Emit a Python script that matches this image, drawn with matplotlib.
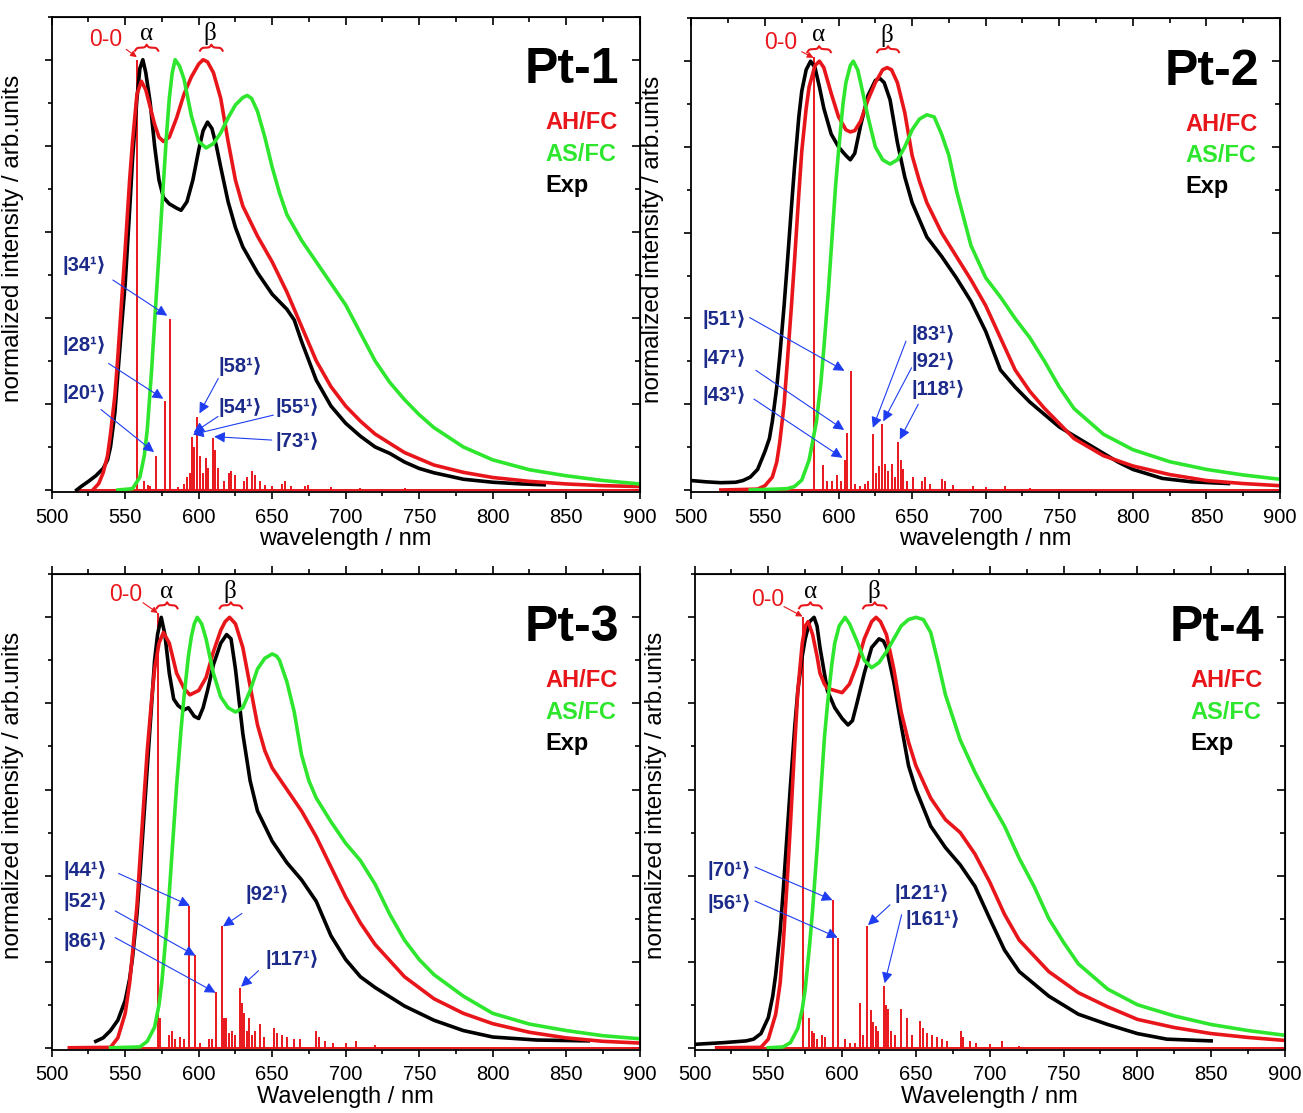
import numpy as np
import matplotlib.pyplot as plt
from matplotlib.ticker import MultipleLocator

plt.rcParams['font.family'] = ['Liberation Sans', 'DejaVu Sans']

RED = '#e8161b'
GREEN = '#2ee62e'
NAVY = '#1c2a8a'
BLUE = '#1f3df0'

# ---------------- Pt-1 ----------------
pt1_exp_wl = [517, 520, 525, 530, 535, 538, 540, 543, 545, 548, 550, 553, 555, 558, 560, 562, 564, 567,
              570, 573, 576, 580, 585, 588, 592, 596, 600, 603, 606, 609, 612, 615, 620, 625, 630, 640,
              650, 660, 665, 670, 680, 690, 700, 710, 720, 730, 740, 750, 760, 780, 800, 820, 835]
pt1_exp_int = [0, 0.008, 0.02, 0.033, 0.05, 0.07, 0.10, 0.18, 0.27, 0.40, 0.48, 0.65, 0.77, 0.91, 0.98, 1.0,
               0.97, 0.90, 0.80, 0.72, 0.68, 0.665, 0.655, 0.65, 0.67, 0.72, 0.79, 0.835, 0.855, 0.84, 0.80,
               0.75, 0.67, 0.61, 0.565, 0.505, 0.455, 0.42, 0.395, 0.345, 0.255, 0.195, 0.155, 0.125, 0.10,
               0.085, 0.065, 0.05, 0.04, 0.025, 0.018, 0.014, 0.012]
pt1_ah_wl = [528, 532, 535, 538, 540, 543, 545, 548, 550, 553, 555, 558, 561, 564, 567, 570, 573, 576, 580,
             585, 590, 595, 600, 603, 606, 610, 615, 620, 625, 630, 640, 650, 660, 670, 680, 690, 700, 710,
             720, 740, 760, 780, 800, 825, 850, 875, 900]
pt1_ah_int = [0, 0.015, 0.04, 0.08, 0.13, 0.22, 0.31, 0.46, 0.56, 0.72, 0.81, 0.92, 0.95, 0.93, 0.89, 0.85,
              0.82, 0.81, 0.82, 0.865, 0.92, 0.96, 0.99, 1.0, 0.995, 0.97, 0.91, 0.81, 0.72, 0.66, 0.59, 0.53,
              0.46, 0.38, 0.30, 0.24, 0.195, 0.16, 0.13, 0.087, 0.058, 0.041, 0.029, 0.02, 0.014, 0.01, 0.008]
pt1_as_wl = [545, 555, 560, 563, 565, 568, 570, 573, 575, 578, 580, 582, 584, 587, 590, 595, 600, 605, 610,
             615, 620, 625, 630, 633, 636, 640, 645, 650, 655, 660, 670, 680, 690, 700, 710, 720, 730, 740,
             750, 760, 780, 800, 825, 850, 875, 900]
pt1_as_int = [0, 0.003, 0.03, 0.08, 0.14, 0.28, 0.39, 0.55, 0.66, 0.82, 0.91, 0.97, 1.0, 0.985, 0.955, 0.87,
              0.81, 0.795, 0.805, 0.83, 0.865, 0.895, 0.912, 0.917, 0.91, 0.88, 0.82, 0.75, 0.69, 0.64, 0.58,
              0.53, 0.48, 0.43, 0.365, 0.30, 0.25, 0.21, 0.175, 0.145, 0.10, 0.07, 0.047, 0.033, 0.022, 0.014]
pt1_stick_wl = [557.8, 563, 565.2, 566.8, 570.9, 576.9, 580.5, 586, 590, 592, 594, 595.5, 597, 599.1, 600.9,
                602.7, 605, 606.5, 609.4, 611, 612.8, 617.3, 620.6, 622.2, 624.7, 630.7, 633, 636.3, 638.6,
                642, 645, 649.8, 656.5, 658.7, 663, 672, 674.4, 690, 710, 740]
pt1_stick_int = [1.0, 0.02, 0.012, 0.01, 0.079, 0.206, 0.397, 0.008, 0.015, 0.03, 0.04, 0.123, 0.10, 0.17,
                 0.08, 0.04, 0.075, 0.05, 0.121, 0.094, 0.05, 0.02, 0.04, 0.045, 0.035, 0.02, 0.03, 0.045,
                 0.035, 0.02, 0.012, 0.01, 0.015, 0.02, 0.01, 0.01, 0.012, 0.006, 0.005, 0.004]

# ---------------- Pt-2 ----------------
pt2_exp_wl = [500, 510, 520, 530, 535, 540, 545, 550, 553, 555, 558, 560, 563, 565, 568, 570, 573, 575, 578,
              581, 584, 587, 590, 595, 600, 605, 608, 611, 615, 620, 625, 628, 631, 635, 640, 645, 650, 660,
              670, 680, 690, 700, 710, 720, 730, 750, 770, 790, 800, 820, 840, 865]
pt2_exp_int = [0.022, 0.019, 0.017, 0.018, 0.022, 0.03, 0.048, 0.09, 0.12, 0.16, 0.24, 0.31, 0.43, 0.52, 0.66,
               0.75, 0.87, 0.93, 0.98, 1.0, 0.985, 0.94, 0.89, 0.83, 0.80, 0.78, 0.77, 0.785, 0.85, 0.92,
               0.955, 0.96, 0.95, 0.91, 0.81, 0.73, 0.67, 0.59, 0.545, 0.495, 0.44, 0.37, 0.28, 0.24, 0.205,
               0.147, 0.106, 0.065, 0.048, 0.027, 0.019, 0.015]
pt2_ah_wl = [520, 545, 550, 555, 558, 560, 563, 565, 568, 570, 573, 575, 578, 580, 584, 587, 590, 595, 600,
             605, 608, 611, 615, 620, 625, 630, 633, 636, 640, 645, 650, 655, 660, 670, 680, 690, 700, 710,
             720, 730, 740, 760, 780, 800, 825, 850, 875, 900]
pt2_ah_int = [0, 0.002, 0.01, 0.03, 0.065, 0.11, 0.2, 0.29, 0.43, 0.53, 0.69, 0.79, 0.89, 0.94, 0.99, 1.0,
              0.985, 0.925, 0.87, 0.84, 0.835, 0.838, 0.86, 0.91, 0.95, 0.98, 0.985, 0.98, 0.95, 0.88, 0.78,
              0.72, 0.67, 0.60, 0.545, 0.49, 0.43, 0.355, 0.28, 0.23, 0.19, 0.12, 0.08, 0.056, 0.036, 0.022,
              0.015, 0.01]
pt2_as_wl = [540, 565, 570, 575, 580, 585, 588, 590, 593, 595, 598, 600, 603, 605, 608, 610, 613, 615, 620,
             625, 630, 635, 640, 645, 650, 655, 660, 665, 670, 675, 680, 690, 700, 710, 720, 730, 740, 750,
             760, 780, 800, 825, 850, 875, 900]
pt2_as_int = [0, 0.003, 0.008, 0.023, 0.07, 0.16, 0.25, 0.33, 0.46, 0.56, 0.71, 0.79, 0.9, 0.95, 0.99, 1.0,
              0.98, 0.95, 0.87, 0.80, 0.77, 0.76, 0.77, 0.80, 0.84, 0.865, 0.875, 0.87, 0.83, 0.78, 0.70,
              0.57, 0.495, 0.45, 0.40, 0.355, 0.30, 0.24, 0.19, 0.13, 0.094, 0.066, 0.048, 0.035, 0.025]
pt2_stick_wl = [583.3, 589.6, 591.9, 595.3, 598.7, 602, 604.3, 605.9, 608.4, 611.1, 614.5, 617.9, 620.2,
                623.6, 625.4, 627.7, 629.7, 631.5, 633.8, 636, 638.3, 640.6, 642.2, 643.5, 646.2, 650.8,
                656.4, 658.7, 662, 670, 672.3, 678, 691.5, 700, 713, 730]
pt2_stick_int = [1.01, 0.058, 0.02, 0.02, 0.035, 0.02, 0.069, 0.133, 0.278, 0.015, 0.01, 0.015, 0.02, 0.131,
                 0.04, 0.055, 0.154, 0.06, 0.045, 0.06, 0.03, 0.112, 0.07, 0.05, 0.02, 0.03, 0.02, 0.03,
                 0.015, 0.025, 0.02, 0.012, 0.01, 0.008, 0.01, 0.004]

# ---------------- Pt-3 ----------------
pt3_exp_wl = [530, 535, 540, 545, 550, 553, 555, 558, 560, 563, 565, 568, 570, 572, 574.5, 577, 580, 583, 586,
              590, 593, 597, 600, 603, 606, 610, 615, 619, 622, 625, 628, 630, 635, 640, 650, 660, 670, 675,
              680, 685, 690, 700, 710, 720, 740, 760, 780, 800, 830, 865]
pt3_exp_int = [0.015, 0.023, 0.04, 0.064, 0.11, 0.16, 0.21, 0.31, 0.40, 0.55, 0.65, 0.80, 0.90, 0.96, 1.0,
               0.96, 0.87, 0.81, 0.795, 0.785, 0.79, 0.77, 0.765, 0.79, 0.83, 0.89, 0.94, 0.96, 0.95, 0.88,
               0.79, 0.73, 0.62, 0.55, 0.48, 0.43, 0.39, 0.365, 0.34, 0.30, 0.26, 0.205, 0.165, 0.14, 0.097,
               0.064, 0.04, 0.025, 0.018, 0.016]
pt3_ah_wl = [512, 540, 545, 550, 553, 555, 558, 560, 563, 565, 568, 570, 573, 576, 580, 585, 590, 594, 600,
             605, 610, 615, 618, 621, 625, 630, 635, 640, 645, 650, 660, 670, 680, 690, 700, 710, 720, 740,
             760, 780, 800, 825, 850, 875, 900]
pt3_ah_int = [0, 0.001, 0.023, 0.08, 0.15, 0.22, 0.33, 0.435, 0.59, 0.69, 0.81, 0.88, 0.94, 0.965, 0.94,
              0.87, 0.835, 0.82, 0.83, 0.86, 0.92, 0.97, 0.99, 1.0, 0.985, 0.93, 0.84, 0.75, 0.69, 0.65, 0.60,
              0.55, 0.49, 0.42, 0.35, 0.29, 0.24, 0.165, 0.114, 0.08, 0.056, 0.036, 0.023, 0.015, 0.011]
pt3_as_wl = [540, 560, 565, 570, 573, 575, 578, 580, 583, 585, 588, 590, 593, 595, 597, 599, 602, 605, 610,
             615, 620, 625, 630, 635, 640, 645, 650, 653, 655, 660, 665, 670, 675, 680, 690, 700, 710, 720,
             730, 740, 750, 760, 780, 800, 825, 850, 875, 900]
pt3_as_int = [0, 0.002, 0.015, 0.048, 0.1, 0.155, 0.27, 0.36, 0.51, 0.61, 0.74, 0.815, 0.91, 0.955, 0.985,
              1.0, 0.985, 0.95, 0.87, 0.815, 0.79, 0.78, 0.79, 0.83, 0.88, 0.905, 0.915, 0.91, 0.90, 0.85,
              0.78, 0.68, 0.62, 0.58, 0.525, 0.475, 0.435, 0.38, 0.31, 0.25, 0.205, 0.17, 0.12, 0.08, 0.055,
              0.04, 0.028, 0.021]
pt3_stick_wl = [572.6, 574, 579.5, 581.7, 584, 587.4, 590.1, 593.1, 597.2, 601, 606.7, 609, 611.5, 615.8,
                617.3, 618.7, 620.3, 622.6, 624.8, 627.8, 629.4, 631, 632.8, 634.4, 636.2, 638.4, 641.4,
                644.1, 651, 653.2, 656.6, 660, 664.5, 669, 679.9, 681.5, 686, 691.7, 700, 707, 720]
pt3_stick_int = [1.01, 0.069, 0.03, 0.04, 0.02, 0.025, 0.02, 0.33, 0.216, 0.01, 0.02, 0.02, 0.129, 0.282,
                 0.07, 0.07, 0.035, 0.04, 0.03, 0.14, 0.105, 0.08, 0.04, 0.07, 0.03, 0.04, 0.055, 0.025,
                 0.045, 0.035, 0.03, 0.025, 0.02, 0.02, 0.04, 0.025, 0.015, 0.012, 0.01, 0.015, 0.006]

# ---------------- Pt-4 ----------------
pt4_exp_wl = [500, 520, 535, 540, 545, 550, 553, 555, 558, 560, 563, 565, 568, 570, 573, 575, 578, 581, 583,
              585, 588, 590, 595, 600, 604, 607, 610, 615, 620, 625, 628, 630, 635, 640, 645, 650, 660, 670,
              680, 690, 700, 710, 720, 740, 760, 780, 800, 820, 850]
pt4_exp_int = [0.008, 0.012, 0.016, 0.02, 0.033, 0.07, 0.12, 0.17, 0.27, 0.36, 0.51, 0.61, 0.75, 0.83, 0.91,
               0.95, 0.99, 1.0, 0.98, 0.93, 0.87, 0.83, 0.79, 0.765, 0.75, 0.76, 0.80, 0.87, 0.93, 0.95,
               0.945, 0.93, 0.85, 0.75, 0.655, 0.60, 0.515, 0.465, 0.425, 0.375, 0.30, 0.227, 0.177, 0.12,
               0.078, 0.054, 0.033, 0.02, 0.016]
pt4_ah_wl = [515, 545, 550, 555, 558, 560, 563, 565, 568, 570, 573, 575, 577, 580, 583, 585, 588, 590, 595,
             600, 605, 610, 615, 620, 623, 626, 630, 635, 640, 645, 650, 660, 670, 680, 690, 700, 710, 720,
             740, 760, 780, 800, 825, 850, 875, 900]
pt4_ah_int = [0, 0.001, 0.02, 0.078, 0.15, 0.235, 0.40, 0.52, 0.71, 0.83, 0.94, 0.98, 0.99, 0.96, 0.91, 0.87,
              0.845, 0.835, 0.83, 0.825, 0.845, 0.89, 0.95, 0.99, 1.0, 0.99, 0.96, 0.88, 0.78, 0.71, 0.655,
              0.58, 0.53, 0.50, 0.45, 0.385, 0.31, 0.25, 0.177, 0.128, 0.095, 0.066, 0.047, 0.033, 0.024,
              0.017]
pt4_as_wl = [550, 560, 565, 570, 573, 575, 578, 580, 583, 585, 588, 590, 593, 595, 598, 602, 605, 610, 615,
             620, 625, 630, 635, 640, 645, 650, 655, 660, 665, 670, 680, 690, 700, 710, 720, 730, 740, 750,
             760, 780, 800, 825, 850, 875, 900]
pt4_as_int = [0, 0.002, 0.012, 0.045, 0.09, 0.136, 0.24, 0.32, 0.46, 0.565, 0.72, 0.795, 0.89, 0.94, 0.98,
              1.0, 0.985, 0.945, 0.90, 0.883, 0.895, 0.92, 0.95, 0.98, 0.995, 1.0, 0.995, 0.965, 0.895, 0.82,
              0.715, 0.64, 0.575, 0.515, 0.44, 0.375, 0.30, 0.245, 0.195, 0.136, 0.10, 0.074, 0.054, 0.04,
              0.029]
pt4_stick_wl = [573.7, 577.5, 579.3, 580.9, 583.2, 586.1, 588.4, 594, 597.4, 601.9, 605.3, 608.7, 612.1,
                614.3, 616.6, 619.5, 621.1, 622.7, 624.5, 628.6, 629.7, 630.8, 632.8, 635.8, 639.8, 643.7,
                647, 652.7, 654.5, 657.2, 660.6, 664, 667.4, 670.8, 680.2, 682, 686.5, 691, 700, 708, 720]
pt4_stick_int = [1.0, 0.069, 0.04, 0.035, 0.02, 0.03, 0.025, 0.343, 0.256, 0.02, 0.01, 0.01, 0.104, 0.03,
                 0.282, 0.087, 0.06, 0.05, 0.04, 0.143, 0.10, 0.09, 0.04, 0.03, 0.089, 0.069, 0.03, 0.063,
                 0.045, 0.035, 0.03, 0.025, 0.02, 0.015, 0.04, 0.025, 0.015, 0.012, 0.008, 0.015, 0.005]

stick_start = [518, 520, 512, 515]
panel_names = ['Pt-1', 'Pt-2', 'Pt-3', 'Pt-4']
xlabels = ['wavelength / nm', 'wavelength / nm', 'Wavelength / nm', 'Wavelength / nm']

# mode labels: (mode, text x, text y, arrow start x, y, arrow tip x, y)
pt1_modes = [('34', 507.5, 0.522, 541.6, 0.488, 578.6, 0.405),
             ('28', 507.5, 0.335, 538.7, 0.294, 575.9, 0.212),
             ('20', 507.5, 0.224, 533.5, 0.187, 569.6, 0.088),
             ('58', 613.5, 0.286, 613.3, 0.259, 600.5, 0.178),
             ('54', 613.5, 0.191, 613.2, 0.171, 596.5, 0.133),
             ('55', 652.0, 0.191, 650.8, 0.174, 596.0, 0.129),
             ('73', 652.0, 0.113, 649.7, 0.116, 610.5, 0.124)]
pt2_modes = [('51', 507.3, 0.398, 539.6, 0.402, 604.0, 0.278),
             ('47', 507.3, 0.307, 543.8, 0.279, 603.8, 0.140),
             ('43', 507.3, 0.220, 542.5, 0.212, 602.6, 0.075),
             ('83', 649.7, 0.363, 645.8, 0.347, 623.3, 0.145),
             ('92', 649.7, 0.299, 649.6, 0.285, 630.4, 0.160),
             ('118', 649.7, 0.235, 654.2, 0.200, 641.6, 0.118)]
pt3_modes = [('44', 507.7, 0.413, 545.5, 0.405, 594.0, 0.330),
             ('52', 507.7, 0.339, 543.2, 0.318, 597.8, 0.214),
             ('86', 507.7, 0.248, 543.2, 0.256, 611.5, 0.128),
             ('92', 631.5, 0.355, 629.4, 0.312, 616.5, 0.282),
             ('117', 645.7, 0.204, 640.7, 0.179, 628.8, 0.142)]
pt4_modes = [('70', 508.6, 0.413, 541.0, 0.420, 593.5, 0.343),
             ('56', 508.6, 0.335, 541.0, 0.341, 597.0, 0.256),
             ('121', 635.8, 0.359, 632.4, 0.332, 617.5, 0.285),
             ('161', 642.6, 0.297, 640.3, 0.309, 628.8, 0.150)]

# top marks: 0-0 text (x, y), 0-0 arrow start/end, alpha x and brace, beta x and brace
top_marks = [
    dict(zz=(536.4, 1.047), arr=((550.7, 1.024), (557.9, 1.006)), a=564.6, ab=(556.7, 572.5), b=607.7, bb=(600.9, 616.3)),
    dict(zz=(561.0, 1.043), arr=((575.0, 1.022), (583.0, 1.008)), a=586.5, ab=(578.8, 594.8), b=632.6, bb=(626.2, 641.1)),
    dict(zz=(550.5, 1.054), arr=((562.1, 1.034), (572.2, 1.010)), a=577.9, ab=(571.4, 585.6), b=620.9, bb=(614.3, 629.5)),
    dict(zz=(549.6, 1.041), arr=((560.6, 1.025), (573.2, 1.002)), a=578.4, ab=(570.8, 586.2), b=621.5, bb=(614.2, 630.0)),
]

panels = [
    (pt1_exp_wl, pt1_exp_int, pt1_ah_wl, pt1_ah_int, pt1_as_wl, pt1_as_int, pt1_stick_wl, pt1_stick_int, pt1_modes),
    (pt2_exp_wl, pt2_exp_int, pt2_ah_wl, pt2_ah_int, pt2_as_wl, pt2_as_int, pt2_stick_wl, pt2_stick_int, pt2_modes),
    (pt3_exp_wl, pt3_exp_int, pt3_ah_wl, pt3_ah_int, pt3_as_wl, pt3_as_int, pt3_stick_wl, pt3_stick_int, pt3_modes),
    (pt4_exp_wl, pt4_exp_int, pt4_ah_wl, pt4_ah_int, pt4_as_wl, pt4_as_int, pt4_stick_wl, pt4_stick_int, pt4_modes),
]

# axes boxes in figure pixels: left, top, right, bottom
W, H = 1303, 1113
boxes = [(51.7, 16.7, 639.7, 491.7), (691.4, 18.3, 1280.0, 491.7),
         (51.7, 574.3, 639.7, 1049.5), (694.5, 574.3, 1285.0, 1049.5)]


def brace(ax, x0, x1, y, h, color):
    # curly brace opening downwards
    n = 201
    x = np.linspace(x0, x1, n)
    half = x[:n // 2 + 1]
    k = 1.6
    yh = 1 / (1 + np.exp(-k * (half - half[0]))) + 1 / (1 + np.exp(-k * (half - half[-1])))
    yy = np.concatenate((yh, yh[-2::-1]))
    ax.plot(x, y + (yy - 0.5) * h, color=color, lw=1.5, clip_on=False)


fig = plt.figure(figsize=(W / 100, H / 100), dpi=100)

for i, (ew, ei, aw, ai, sw, si, kw, ki, modes) in enumerate(panels):
    l, t, r, b = boxes[i]
    ax = fig.add_axes([l / W, 1 - b / H, (r - l) / W, (b - t) / H])

    ax.hlines(0, stick_start[i], 900, color=RED, lw=1.4)
    ax.vlines(kw, 0, ki, color=RED, lw=1.4)
    ax.plot(ew, ei, color='black', lw=2.6)
    ax.plot(aw, ai, color=RED, lw=2.6)
    ax.plot(sw, si, color=GREEN, lw=2.6)

    ax.set_xlim(500, 900)
    ax.set_ylim(-0.004, 1.1)
    ax.xaxis.set_major_locator(MultipleLocator(50))
    ax.xaxis.set_minor_locator(MultipleLocator(25))
    ax.yaxis.set_major_locator(MultipleLocator(0.2))
    ax.yaxis.set_minor_locator(MultipleLocator(0.1))
    ax.tick_params(which='both', direction='out', width=1.2, labelsize=14.5, pad=6.5)
    ax.tick_params(which='major', length=5)
    ax.tick_params(which='minor', length=3)
    ax.tick_params(axis='y', labelleft=False)
    for s in ax.spines.values():
        s.set_linewidth(1.3)

    top = ax.secondary_xaxis('top')
    top.xaxis.set_major_locator(MultipleLocator(50))
    top.xaxis.set_minor_locator(MultipleLocator(25))
    top.tick_params(which='both', direction='in' if i < 2 else 'out', width=1.2, labeltop=False)
    top.tick_params(which='major', length=6)
    top.tick_params(which='minor', length=3.5)
    right = ax.secondary_yaxis('right')
    right.yaxis.set_major_locator(MultipleLocator(0.2))
    right.yaxis.set_minor_locator(MultipleLocator(0.1))
    right.tick_params(which='both', direction='in', width=1.2, labelright=False)
    right.tick_params(which='major', length=6)
    right.tick_params(which='minor', length=3.5)

    ax.set_xlabel(xlabels[i], fontsize=17, labelpad=1)
    ax.set_ylabel('normalized intensity / arb.units', fontsize=17.5)
    ax.yaxis.set_label_coords(-0.047, 0.534)

    # title and legend text
    ax.text(886, 0.975, panel_names[i], fontsize=36, fontweight='bold', ha='right', va='center')
    ax.text(835.7, 0.853, 'AH/FC', color=RED, fontsize=17, fontweight='bold', va='center')
    ax.text(835.7, 0.780, 'AS/FC', color=GREEN, fontsize=17, fontweight='bold', va='center')
    ax.text(835.7, 0.707, 'Exp', color='black', fontsize=17, fontweight='bold', va='center')

    # mode labels with arrows
    for m, tx, ty, sx, sy, px, py in modes:
        ax.text(tx, ty, '|' + m + '\u00b9\u27e9', color=NAVY, fontsize=14.5, fontweight='bold',
                ha='left', va='center')
        ax.annotate('', xy=(px, py), xytext=(sx, sy),
                    arrowprops=dict(arrowstyle='-|>', color=BLUE, lw=0.8, mutation_scale=16,
                                    shrinkA=0, shrinkB=0))

    # 0-0, alpha, beta marks
    tm = top_marks[i]
    ax.text(tm['zz'][0], tm['zz'][1], '0-0', color=RED, fontsize=16.5, ha='center', va='center')
    ax.annotate('', xy=tm['arr'][1], xytext=tm['arr'][0],
                arrowprops=dict(arrowstyle='-|>', color=RED, lw=0.8, mutation_scale=9,
                                shrinkA=0, shrinkB=0), annotation_clip=False)
    ax.text(tm['a'], 1.060, '\u03b1', fontsize=18, family=['Liberation Serif', 'DejaVu Serif'],
            ha='center', va='center')
    ax.text(tm['b'], 1.060, '\u03b2', fontsize=18, family=['Liberation Serif', 'DejaVu Serif'],
            ha='center', va='center')
    brace(ax, tm['ab'][0], tm['ab'][1], 1.021, 0.014, RED)
    brace(ax, tm['bb'][0], tm['bb'][1], 1.021, 0.014, RED)

fig.savefig('out.png', dpi=100)
